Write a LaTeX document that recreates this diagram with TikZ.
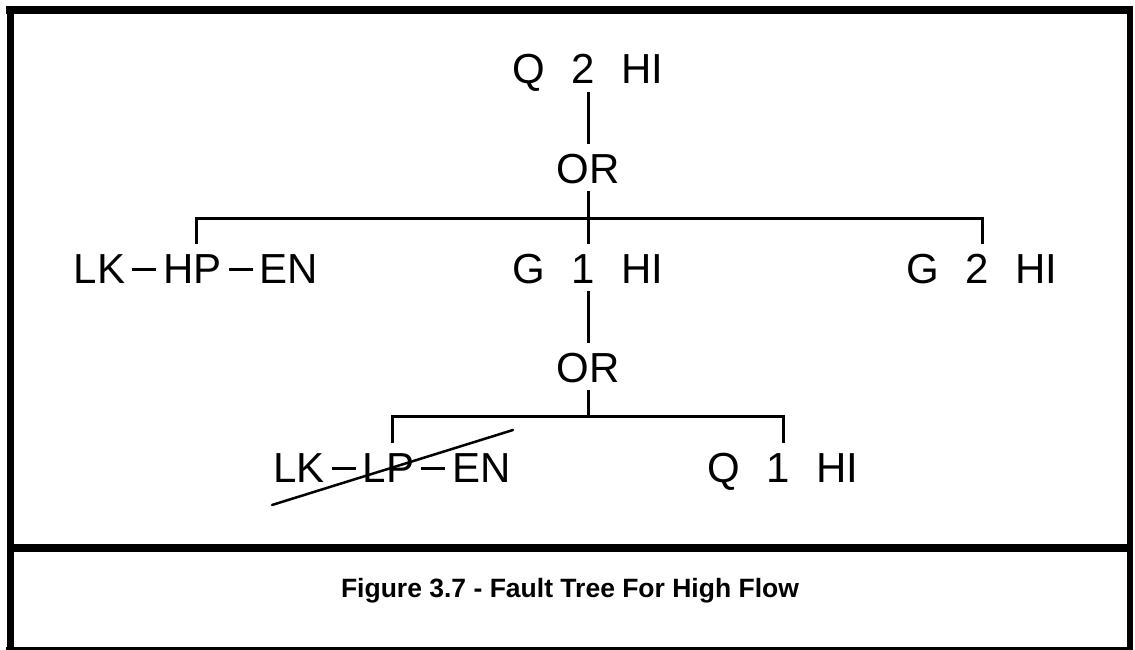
\documentclass[tikz,border=0pt]{standalone}
\usepackage{fontspec}
\setmainfont{Liberation Sans}

% gap between the parts of an event name
\newcommand{\evgap}{\hspace{0.63em}}
% long dash inside an event name
\newcommand{\evdash}{\hspace{7pt}\rule[12.5pt]{24pt}{3pt}\hspace{7pt}}

\begin{document}
\begin{tikzpicture}[
        x=1pt, y=-1pt,
        % styles
        styleEvent/.style={anchor=base, inner xsep=0pt, inner ysep=8pt, text height=31pt, text depth=0pt, font=\fontsize{42}{48}\selectfont},
        styleGate/.style={styleEvent},
        conn/.style={line width=3pt},
        strikeLine/.style={line width=2.5pt, line cap=round},
        frameLine/.style={line width=#1},
        captionLbl/.style={anchor=base, font=\bfseries\fontsize{26.5}{32}\selectfont}
    ]
    \useasboundingbox (0,0) rectangle (1135,650);

    % frame
    \draw [frameLine=8pt] (6,10.5) -- (1133,10.5);
    \draw [frameLine=7pt] (10,6) -- (10,650);
    \draw [frameLine=6pt] (1130,6) -- (1130,650);
    \draw [frameLine=3pt] (6,648) -- (1133,648);
    \draw [frameLine=8pt] (10,547.5) -- (1130,547.5);

    % nodes

    % top event
    \node [styleEvent] (q2) at (588,84) {Q\evgap 2\evgap HI};
    \node [styleGate] (or1) at (588,183) {OR};

    % row 2
    \node [styleEvent] (hp) at (196,283) {LK\evdash HP\evdash EN};
    \node [styleEvent] (g1) at (588,283) {G\evgap 1\evgap HI};
    \node [styleEvent] (g2) at (982,283) {G\evgap 2\evgap HI};
    \node [styleGate] (or2) at (588,382) {OR};

    % row 3
    \node [styleEvent] (lp) at (392,482) {LK\evdash LP\evdash EN};
    \node [styleEvent] (q1) at (783,482) {Q\evgap 1\evgap HI};

    % caption
    \node [captionLbl] (caption) at (570,597) {Figure 3.7 - Fault Tree For High Flow};

    % connections
    \coordinate (bar1) at (588,218);
    \coordinate (bar2) at (588,416);

    \draw [conn] (q2) -- (or1);
    \draw [conn] (or1) -- (g1);
    \draw [conn] (hp.north) |- (bar1) -| (g2.north);

    \draw [conn] (g1) -- (or2);
    \draw [conn] (or2.south) -- (bar2);
    \draw [conn] (lp.north) |- (bar2) -| (q1.north);

    % crossed out event
    \draw [strikeLine] (272,505) -- (513,430);

\end{tikzpicture}
\end{document}
